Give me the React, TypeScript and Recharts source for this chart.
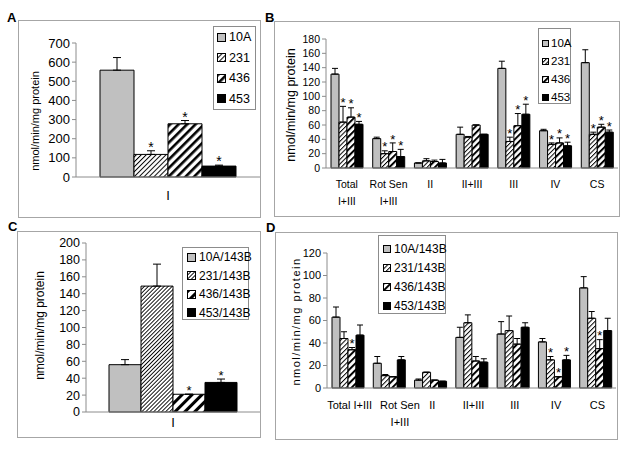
import React from "react";
import { BarChart, Bar, XAxis, YAxis, ErrorBar, LabelList, Legend } from "recharts";

const FONT = "'Liberation Sans', Arial, Helvetica, sans-serif";
const GRAY = "#c0c0c0";
const AXIS = "#8c8c8c";
const FRAME = "#a6a6a6";

// ---------- categories / names ----------
const catsI = ["I"];
const catsComplex = ["Total I+III", "Rot Sen I+III", "II", "II+III", "III", "IV", "CS"];
const namesCells = ["10A", "231", "436", "453"];
const namesCybrids = ["10A/143B", "231/143B", "436/143B", "453/143B"];

// ---------- panel A: complex I, cell lines ----------
const a10A = [558];
const a10AErr = [66];
const a10ASig = [0];
const a231 = [118];
const a231Err = [19];
const a231Sig = [1];
const a436 = [278];
const a436Err = [17];
const a436Sig = [1];
const a453 = [57];
const a453Err = [5];
const a453Sig = [1];
const ticksA = [0, 100, 200, 300, 400, 500, 600, 700];

// ---------- panel B: complexes, cell lines ----------
const b10A = [131, 41, 7, 47, 139, 52, 147];
const b10AErr = [8, 2, 0, 10, 10, 2, 18];
const b10ASig = [0, 0, 0, 0, 0, 0, 0];
const b231 = [64, 20, 10, 43, 37, 33, 47];
const b231Err = [22, 4, 3, 1, 6, 2, 3];
const b231Sig = [1, 1, 0, 0, 1, 1, 1];
const b436 = [71, 23, 9, 60, 59, 35, 57];
const b436Err = [13, 12, 2, 0, 17, 7, 4];
const b436Sig = [1, 1, 0, 0, 1, 1, 1];
const b453 = [61, 16, 7, 47, 75, 31, 50];
const b453Err = [4, 10, 5, 0, 14, 5, 3];
const b453Sig = [1, 1, 0, 0, 1, 1, 1];
const ticksB = [0, 20, 40, 60, 80, 100, 120, 140, 160, 180];

// ---------- panel C: complex I, cybrids ----------
const c10A = [56];
const c10AErr = [6];
const c10ASig = [0];
const c231 = [149];
const c231Err = [26];
const c231Sig = [0];
const c436 = [21];
const c436Err = [0];
const c436Sig = [1];
const c453 = [35];
const c453Err = [4];
const c453Sig = [1];
const ticksC = [0, 20, 40, 60, 80, 100, 120, 140, 160, 180, 200];

// ---------- panel D: complexes, cybrids ----------
const d10A = [63, 22, 7, 45, 48, 41, 89];
const d10AErr = [9, 6, 1, 9, 11, 3, 10];
const d10ASig = [0, 0, 0, 0, 0, 0, 0];
const d231 = [44, 11, 14, 58, 51, 25, 62];
const d231Err = [6, 1, 0, 7, 13, 3, 6];
const d231Sig = [0, 0, 0, 0, 0, 1, 0];
const d436 = [34, 10, 7, 24, 39, 10, 35];
const d436Err = [2, 0, 0, 4, 5, 0, 8];
const d436Sig = [1, 0, 0, 0, 0, 1, 1];
const d453 = [47, 25, 6, 23, 54, 25, 51];
const d453Err = [9, 3, 0, 3, 4, 4, 11];
const d453Sig = [0, 0, 0, 0, 0, 1, 0];
const ticksD = [0, 20, 40, 60, 80, 100, 120];

type Series = { name: string; values: number[]; err: number[]; sig: number[]; fill: string };

function buildRows(cats: string[], series: Series[]) {
  return cats.map((c, i) => {
    const row: any = { cat: c };
    series.forEach((s, k) => {
      row[`v${k}`] = s.values[i];
      row[`e${k}`] = [0, s.err[i]];
    });
    return row;
  });
}

// asterisk sits just above the top of the error bar
const starLabel = (err: number[], sig: number[], fs: number) => (props: any) => {
  const vb = props.viewBox ?? props;
  const index = props.index;
  if (index == null || !sig[index]) return null;
  const v = Number(props.value);
  const per = v ? Math.abs(vb.height) / v : 0;
  const top = vb.y - err[index] * per;
  const cx = vb.x + vb.width / 2;
  return (
    <text key={`star-${index}`} x={cx} y={top + fs * 0.43 - 5} textAnchor="middle" fontSize={fs} fontFamily={FONT} fill="#000">
      *
    </text>
  );
};

const catTick = (fs: number, firstDy: number, gap: number, wrap: string[], shift: Record<string, number>, baseShift = 0) => (props: any) => {
  const { x, y, payload } = props;
  const v: string = String(payload.value);
  const cut = v.lastIndexOf(" ");
  const lines = wrap.includes(v) ? [v.slice(0, cut), v.slice(cut + 1)] : [v];
  const tx = x + (shift[v] ?? baseShift);
  return (
    <text x={tx} y={y + firstDy} textAnchor="middle" fontSize={fs} fontFamily={FONT} fill="#000">
      {lines.map((l, i) => (
        <tspan key={i} x={tx} dy={i === 0 ? 0 : gap}>
          {l}
        </tspan>
      ))}
    </text>
  );
};

const yLabel = (cx: number, dy: number, fs: number, spacing = 0) => (props: any) => {
  const vb = props.viewBox;
  const x = cx;
  const y = vb.y + vb.height / 2 + dy;
  return (
    <text x={x} y={y} transform={`rotate(-90 ${x} ${y})`} textAnchor="middle" dominantBaseline="central" fontSize={fs} letterSpacing={spacing} fontFamily={FONT} fill="#000">
      nmol/min/mg protein
    </text>
  );
};

const legendBox = (w: number, h: number, fs: number, row: number, padT: number, padL: number, sw: number, gap: number) => (props: any) => {
  const items = props.payload ?? [];
  return (
    <div style={{ width: w, height: h, boxSizing: "border-box", background: "#fff", border: `1px solid ${AXIS}`, paddingTop: padT, paddingLeft: padL }}>
      {items.map((it: any) => (
        <div key={it.value} style={{ display: "flex", alignItems: "center", height: row, fontSize: fs, fontFamily: FONT, color: "#000", whiteSpace: "nowrap" }}>
          <svg width={sw} height={sw} style={{ flex: "none", marginRight: gap }}>
            <rect x={0.5} y={0.5} width={sw - 1} height={sw - 1} fill={it.color} stroke="#000" strokeWidth={1} />
          </svg>
          <span>{it.value}</span>
        </div>
      ))}
    </div>
  );
};

type PanelCfg = {
  letter: string;
  letterPos: { l: number; t: number };
  frame: { l: number; t: number; w: number; h: number };
  margin: { top: number; right: number; left: number; bottom: number };
  yW: number;
  xH: number;
  cats: string[];
  series: Series[];
  ticks: number[];
  tickFs: number;
  barSize: number;
  capW: number;
  starFs: number;
  tick: (p: any) => any;
  label: (p: any) => any;
  legend: (p: any) => any;
  legendPos: { left: number; top: number };
};

function Panel({ cfg }: { cfg: PanelCfg }) {
  const data = buildRows(cfg.cats, cfg.series);
  const f = cfg.frame;
  return (
    <>
      <div style={{ position: "absolute", left: f.l, top: f.t, width: f.w, height: f.h, boxSizing: "border-box", border: `1px solid ${FRAME}` }} />
      <div style={{ position: "absolute", left: cfg.letterPos.l, top: cfg.letterPos.t, fontFamily: FONT, fontWeight: "bold", fontSize: 13, lineHeight: "13px" }}>{cfg.letter}</div>
      <div style={{ position: "absolute", left: f.l, top: f.t }}>
        <BarChart width={f.w} height={f.h} data={data} margin={cfg.margin} barGap={0} barSize={cfg.barSize}>
          <XAxis dataKey="cat" type="category" interval={0} height={cfg.xH} tickLine={false} tickSize={0} tickMargin={0} axisLine={{ stroke: AXIS }} tick={cfg.tick} />
          <YAxis
            type="number"
            domain={[0, cfg.ticks[cfg.ticks.length - 1]]}
            ticks={cfg.ticks}
            interval={0}
            width={cfg.yW}
            tickSize={4}
            tickMargin={2}
            axisLine={{ stroke: AXIS }}
            tickLine={{ stroke: AXIS }}
            tick={{ fontSize: cfg.tickFs, fill: "#000", fontFamily: FONT }}
            label={{ content: cfg.label }}
          />
          <Legend layout="vertical" align="center" verticalAlign="middle" content={cfg.legend} wrapperStyle={{ left: cfg.legendPos.left, top: cfg.legendPos.top, width: "auto", height: "auto" }} />
          {cfg.series.map((s, k) => (
            <Bar key={s.name} dataKey={`v${k}`} name={s.name} fill={s.fill} stroke="#000" strokeWidth={1} isAnimationActive={false}>
              <ErrorBar dataKey={`e${k}`} direction="y" width={cfg.capW} stroke="#000" strokeWidth={1} isAnimationActive={false} />
              <LabelList dataKey={`v${k}`} content={starLabel(s.err, s.sig, cfg.starFs)} />
            </Bar>
          ))}
        </BarChart>
      </div>
    </>
  );
}

const panelA: PanelCfg = {
  letter: "A",
  letterPos: { l: 7, t: 11 },
  frame: { l: 18, t: 20, w: 243, h: 198 },
  margin: { top: 23, right: 1, left: 0, bottom: 11 },
  yW: 58,
  xH: 30,
  cats: catsI,
  series: [
    { name: namesCells[0], values: a10A, err: a10AErr, sig: a10ASig, fill: GRAY },
    { name: namesCells[1], values: a231, err: a231Err, sig: a231Sig, fill: "url(#hatchA)" },
    { name: namesCells[2], values: a436, err: a436Err, sig: a436Sig, fill: "url(#stripeA)" },
    { name: namesCells[3], values: a453, err: a453Err, sig: a453Sig, fill: "#000" },
  ],
  ticks: ticksA,
  tickFs: 13,
  barSize: 34,
  capW: 4,
  starFs: 14,
  tick: catTick(13, 22.5, 0, [], {}),
  label: yLabel(17, 11, 11),
  legend: legendBox(43, 84, 12.5, 20.5, 0, 3, 9, 3),
  legendPos: { left: 195, top: 6 },
};

const panelB: PanelCfg = {
  letter: "B",
  letterPos: { l: 265, t: 11 },
  frame: { l: 274, t: 21, w: 346, h: 196 },
  margin: { top: 18, right: 2, left: 0, bottom: 9 },
  yW: 52,
  xH: 40,
  cats: catsComplex,
  series: [
    { name: namesCells[0], values: b10A, err: b10AErr, sig: b10ASig, fill: GRAY },
    { name: namesCells[1], values: b231, err: b231Err, sig: b231Sig, fill: "url(#hatchB)" },
    { name: namesCells[2], values: b436, err: b436Err, sig: b436Sig, fill: "url(#stripeB)" },
    { name: namesCells[3], values: b453, err: b453Err, sig: b453Sig, fill: "#000" },
  ],
  ticks: ticksB,
  tickFs: 10.5,
  barSize: 8,
  capW: 3,
  starFs: 13,
  tick: catTick(10.5, 19.5, 17, ["Total I+III", "Rot Sen I+III"], {}),
  label: yLabel(17, 1.5, 12.5),
  legend: legendBox(33, 76, 11.5, 18, 5, 3, 7, 2),
  legendPos: { left: 264, top: 7 },
};

const panelC: PanelCfg = {
  letter: "C",
  letterPos: { l: 8, t: 220 },
  frame: { l: 17, t: 231, w: 244, h: 207 },
  margin: { top: 12, right: 1, left: 0, bottom: 6 },
  yW: 69,
  xH: 20,
  cats: catsI,
  series: [
    { name: namesCybrids[0], values: c10A, err: c10AErr, sig: c10ASig, fill: GRAY },
    { name: namesCybrids[1], values: c231, err: c231Err, sig: c231Sig, fill: "url(#hatchC)" },
    { name: namesCybrids[2], values: c436, err: c436Err, sig: c436Sig, fill: "url(#stripeC)" },
    { name: namesCybrids[3], values: c453, err: c453Err, sig: c453Sig, fill: "#000" },
  ],
  ticks: ticksC,
  tickFs: 12.5,
  barSize: 32,
  capW: 4,
  starFs: 13,
  tick: catTick(13, 14.5, 0, [], {}),
  label: yLabel(23, -2, 12),
  legend: legendBox(67, 73, 12, 18.5, 0, 4, 9, 3),
  legendPos: { left: 165, top: 16 },
};

const panelD: PanelCfg = {
  letter: "D",
  letterPos: { l: 266, t: 221 },
  frame: { l: 275, t: 232, w: 343, h: 208 },
  margin: { top: 21, right: 2, left: 0, bottom: 12 },
  yW: 52,
  xH: 40,
  cats: catsComplex,
  series: [
    { name: namesCybrids[0], values: d10A, err: d10AErr, sig: d10ASig, fill: GRAY },
    { name: namesCybrids[1], values: d231, err: d231Err, sig: d231Sig, fill: "url(#hatchD)" },
    { name: namesCybrids[2], values: d436, err: d436Err, sig: d436Sig, fill: "url(#stripeD)" },
    { name: namesCybrids[3], values: d453, err: d453Err, sig: d453Sig, fill: "#000" },
  ],
  ticks: ticksD,
  tickFs: 11,
  barSize: 8,
  capW: 3,
  starFs: 13,
  tick: catTick(11, 21, 17, ["Rot Sen I+III"], { "Rot Sen I+III": 11 }, 2),
  label: yLabel(21, 1, 11, 1.5),
  legend: legendBox(68, 79, 12, 19, 3, 4, 8, 3),
  legendPos: { left: 103, top: 3 },
};

function Patterns() {
  const stripe = (id: string, period: number, lw: number) => (
    <pattern id={id} width={period} height={period} patternUnits="userSpaceOnUse" patternTransform="rotate(45)">
      <rect width={period} height={period} fill="#fff" />
      <rect width={lw} height={period} fill="#000" />
    </pattern>
  );
  return (
    <svg width={0} height={0} style={{ position: "absolute" }}>
      <defs>
        {stripe("hatchA", 3.5, 1)}
        {stripe("stripeA", 6, 2.6)}
        {stripe("hatchB", 3.2, 1)}
        {stripe("stripeB", 4.6, 2)}
        {stripe("hatchC", 2.8, 0.9)}
        {stripe("stripeC", 7, 3)}
        {stripe("hatchD", 3.4, 1)}
        {stripe("stripeD", 4.8, 2)}
      </defs>
    </svg>
  );
}

export default function App() {
  return (
    <div style={{ position: "absolute", left: 0, top: 0, width: 626, height: 449, background: "#fff", overflow: "hidden" }}>
      <Patterns />
      <Panel cfg={panelA} />
      <Panel cfg={panelB} />
      <Panel cfg={panelC} />
      <Panel cfg={panelD} />
    </div>
  );
}
